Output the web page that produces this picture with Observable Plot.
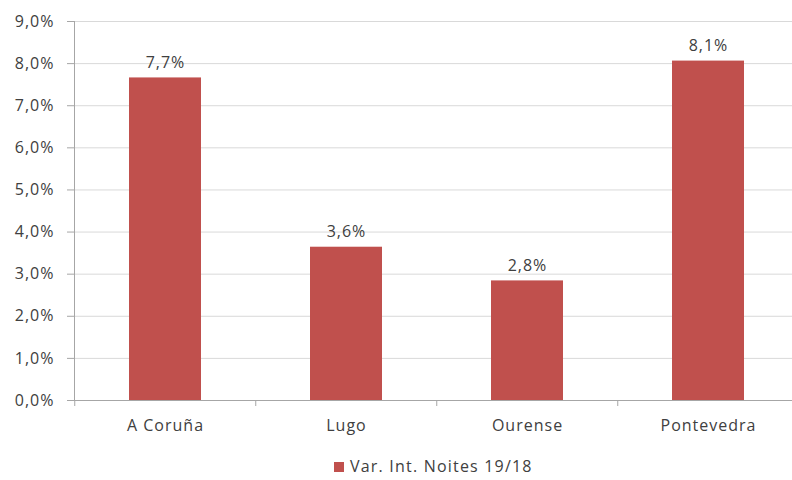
<!DOCTYPE html>
<html>
<head>
<meta charset="utf-8">
<script src="https://cdn.jsdelivr.net/npm/d3@7"></script>
<script src="https://cdn.jsdelivr.net/npm/@observablehq/plot@0.6"></script>
<style>
  body { margin: 0; background: #fff; width: 792px; height: 480px; overflow: hidden; font-family: "Open Sans", sans-serif; }
  #chart svg text { letter-spacing: 1px; }
  #legend { position: relative; height: 35px; font-size: 16px; color: #404040; letter-spacing: 1.2px; }
  #legend .sw { position: absolute; left: 334px; top: 17px; width: 10px; height: 10px; background: #C0504D; }
  #legend .lb { position: absolute; left: 350px; top: 10px; white-space: nowrap; }
</style>
</head>
<body>
<div id="chart"></div>
<div id="legend"><span class="sw"></span><span class="lb"></span></div>
<script>
const categories = ["A Coruña", "Lugo", "Ourense", "Pontevedra"];
const values = [7.66, 3.64, 2.84, 8.06];
const yTicks = [0, 1, 2, 3, 4, 5, 6, 7, 8, 9];
const seriesName = "Var. Int. Noites 19/18";

const data = categories.map((c, i) => ({cat: c, v: values[i]}));
const fmt = d => d.toFixed(1).replace(".", ",") + "%";
const x0 = 74, x1 = 800;
const bw = (x1 - x0) / categories.length;
const axisColor = "#A6A6A6";
const textColor = "#404040";

const chart = Plot.plot({
  width: 792,
  height: 445,
  marginLeft: 74,
  marginRight: 0,
  marginTop: 21,
  marginBottom: 45,
  style: {fontFamily: "'Open Sans', sans-serif", fontSize: "16px", color: textColor, background: "#fff"},
  x: {domain: categories, range: [x0, x1], paddingInner: 0.6, paddingOuter: 0.3, align: 0.5},
  y: {domain: [0, 9], ticks: yTicks},
  marks: [
    Plot.gridY(yTicks, {stroke: "#D9D9D9", strokeOpacity: 1}),
    Plot.barY(data, {x: "cat", y: "v", fill: "#C0504D"}),
    Plot.ruleY([0], {stroke: axisColor}),
    Plot.frame({anchor: "left", stroke: axisColor}),
    Plot.ruleX(categories, {x: d => d, dx: -bw / 2, y1: 0, y2: 0, insetBottom: -6, stroke: axisColor}),
    Plot.axisY(yTicks, {tickFormat: fmt, tickSize: 7, tickPadding: 13, stroke: axisColor, fill: textColor, fontSize: 16, label: null}),
    Plot.axisX({tickSize: 0, tickPadding: 19, fill: textColor, fontSize: 16, label: null}),
    Plot.text(data, {x: "cat", y: "v", text: d => fmt(d.v), dy: -15, fill: textColor, fontSize: 16})
  ]
});
document.getElementById("chart").appendChild(chart);
document.querySelector("#legend .lb").textContent = seriesName;
</script>
</body>
</html>
